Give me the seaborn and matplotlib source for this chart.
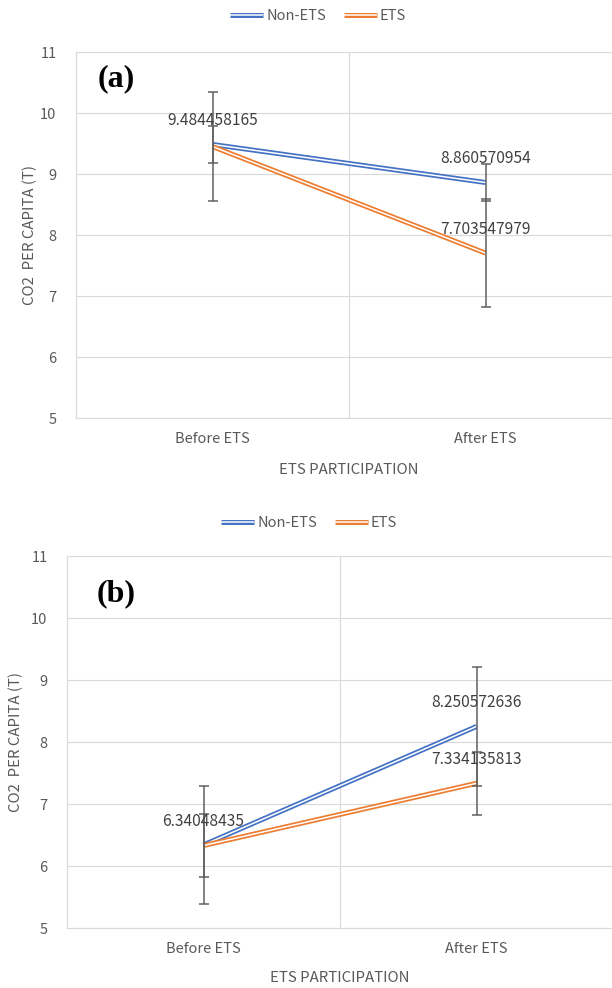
import numpy as np
import pandas as pd
import matplotlib
matplotlib.use("Agg")
import matplotlib.pyplot as plt
import seaborn as sns
from matplotlib.lines import Line2D

# ---------------- data ----------------
categories = ["Before ETS", "After ETS"]
series_names = ["Non-ETS", "ETS"]

a_non_ets = [9.484458165, 8.860570954]
a_ets = [9.45, 7.703547979]
a_non_ets_err = [0.31, 0.31]
a_ets_err = [0.89, 0.89]

b_non_ets = [6.34048435, 8.250572636]
b_ets = [6.33, 7.334135813]
b_non_ets_err = [0.955, 0.955]
b_ets_err = [0.505, 0.505]

# which points carry a data label: (series, category index)
a_labelled = [("Non-ETS", 0), ("Non-ETS", 1), ("ETS", 1)]
b_labelled = [("Non-ETS", 0), ("Non-ETS", 1), ("ETS", 1)]

y_ticks = [5, 6, 7, 8, 9, 10, 11]
panel_letters = ["(a)", "(b)"]
y_title = "CO2  PER CAPITA (T)"
x_title = "ETS PARTICIPATION"

# ---------------- style ----------------
sns.set_theme(style="white")
plt.rcParams["font.family"] = ["Noto Sans CJK KR", "DejaVu Sans"]

colors = {"Non-ETS": "#4472C4", "ETS": "#ED7D31"}
TXT = "#595959"
GRID = "#D9D9D9"
OUTER_LW = 3.6
INNER_LW = 1.1

fig = plt.figure(figsize=(6.12, 9.88), dpi=100)
W, H = 612.0, 988.0
ax_a = fig.add_axes([76 / W, 1 - 418 / H, 546 / W, 366 / H])
ax_b = fig.add_axes([67 / W, 1 - 928 / H, 546 / W, 372 / H])


def draw_panel(ax, non_ets, ets, non_err, ets_err, labelled, letter,
               ylab_x, xlab_y, letter_xy):
    vals = {"Non-ETS": non_ets, "ETS": ets}
    errs = {"Non-ETS": non_err, "ETS": ets_err}
    df = pd.DataFrame({
        "pos": [0, 1, 0, 1],
        "category": categories * 2,
        "value": list(non_ets) + list(ets),
        "group": [series_names[0]] * 2 + [series_names[1]] * 2,
    })
    for name in series_names:
        sub = df[df["group"] == name]
        sns.lineplot(data=sub, x="pos", y="value", color=colors[name],
                     lw=OUTER_LW, ax=ax, legend=False, sort=False,
                     solid_capstyle="butt", zorder=3)
        sns.lineplot(data=sub, x="pos", y="value", color="white",
                     lw=INNER_LW, ax=ax, legend=False, sort=False,
                     solid_capstyle="butt", zorder=3)
    for name in series_names:
        sub = df[df["group"] == name]
        ax.errorbar(sub["pos"], sub["value"], yerr=errs[name], fmt="none",
                    ecolor="#606060", elinewidth=1.1, capsize=3.5,
                    capthick=1.1, zorder=4)
    for name, idx in labelled:
        v = vals[name][idx]
        ax.annotate(f"{v:.10g}", xy=(idx, v), xytext=(0, 17),
                    textcoords="offset points", ha="center", va="center",
                    fontsize=11.2, color="#404040", zorder=5)

    ax.set_xlim(-0.5, 1.5)
    ax.set_ylim(5, 11)
    ax.set_yticks(y_ticks)
    ax.set_yticklabels([str(t) for t in y_ticks])
    ax.set_xticks([0, 1])
    ax.set_xticklabels(categories)
    ax.set_xticks([0.5], minor=True)
    ax.grid(axis="y", which="major", color=GRID, lw=0.8)
    ax.grid(axis="x", which="minor", color=GRID, lw=0.8)
    ax.grid(axis="x", which="major", visible=False)
    ax.tick_params(axis="both", which="both", length=0, colors=TXT,
                   labelsize=10.5)
    ax.tick_params(axis="y", pad=14)
    ax.tick_params(axis="x", pad=10)
    for s in ["top", "right"]:
        ax.spines[s].set_visible(False)
    for s in ["left", "bottom"]:
        ax.spines[s].set_color(GRID)
        ax.spines[s].set_linewidth(0.8)
    ax.set_ylabel(y_title, color=TXT, fontsize=10.8)
    ax.set_xlabel(x_title, color=TXT, fontsize=10.8)
    ax.yaxis.label.set_verticalalignment("center")
    ax.xaxis.label.set_verticalalignment("center")
    ax.yaxis.set_label_coords(ylab_x, 0.5)
    ax.xaxis.set_label_coords(0.5, xlab_y)
    ax.text(letter_xy[0], letter_xy[1], letter, transform=ax.transAxes,
            family=["Liberation Serif", "DejaVu Serif"], fontweight="bold",
            fontsize=23, color="black", ha="center", va="center")


draw_panel(ax_a, a_non_ets, a_ets, a_non_ets_err, a_ets_err, a_labelled,
           panel_letters[0], (30 - 76) / 546, (418 - 470) / 366,
           ((116 - 76) / 546, (418 - 79) / 366))
draw_panel(ax_b, b_non_ets, b_ets, b_non_ets_err, b_ets_err, b_labelled,
           panel_letters[1], (16 - 67) / 546, (928 - 978) / 372,
           ((116 - 67) / 546, (928 - 594) / 372))


def legend_handles():
    hs = []
    for name in series_names:
        outer = Line2D([], [], color=colors[name], lw=OUTER_LW,
                       solid_capstyle="butt")
        inner = Line2D([], [], color="white", lw=INNER_LW,
                       solid_capstyle="butt")
        hs.append((outer, inner))
    return hs


for yc, xc in [(16, 318), (523, 309)]:
    leg = fig.legend(legend_handles(), series_names, loc="center",
                     bbox_to_anchor=(xc / W, 1 - yc / H), ncol=2,
                     frameon=False, fontsize=10.5, handlelength=2.3,
                     handletextpad=0.2, columnspacing=1.2)
    for t in leg.get_texts():
        t.set_color(TXT)

fig.savefig("out.png", dpi=100, facecolor="white")
